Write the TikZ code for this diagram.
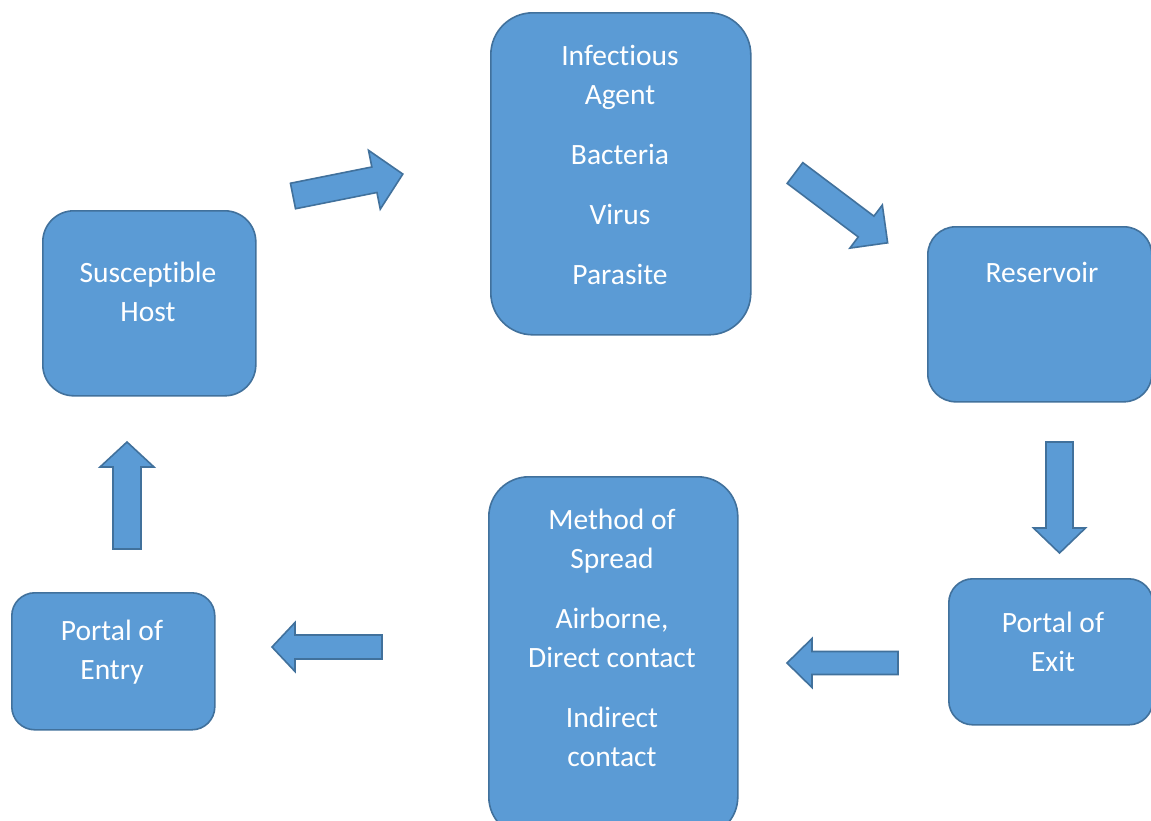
\documentclass[tikz,border=0pt]{standalone}
\usepackage{fontspec}
\setmainfont[Ligatures=NoCommon]{Carlito}
\definecolor{boxfill}{HTML}{5B9BD5}
\definecolor{boxline}{HTML}{41719C}
\begin{document}
\begin{tikzpicture}[x=1pt,y=-1pt,
  box/.style={draw=boxline, fill=boxfill, line width=1.6pt, anchor=north west, inner sep=0pt},
  lbl/.style={text=white, font=\fontsize{29.5}{39}\selectfont, align=center, inner sep=0pt, anchor=north},
  arrowline/.style={draw=boxline, fill=boxfill, line width=1.6pt, line join=miter},
  pics/barrow/.style args={#1/#2/#3/#4}{code={
    \draw[arrowline] (0,-#2/2) -- (#1-#4,-#2/2) -- (#1-#4,-#3/2) -- (#1,0)
      -- (#1-#4,#3/2) -- (#1-#4,#2/2) -- (0,#2/2) -- cycle;}}
]
\fill[white] (0,0) rectangle (1151,820);
\useasboundingbox (0,0) rectangle (1151,820);
\clip (0,0) rectangle (1151,820);

% boxes
\node[box, rounded corners=42pt, minimum width=260pt, minimum height=322pt] (agent) at (490,12) {};
\node[box, rounded corners=31pt, minimum width=213pt, minimum height=185pt] (host) at (42,210) {};
\node[box, rounded corners=28pt, minimum width=224pt, minimum height=175pt] (reservoir) at (927,226) {};
\node[box, rounded corners=24pt, minimum width=204pt, minimum height=146pt] (exit) at (948,578) {};
\node[box, rounded corners=40pt, minimum width=249pt, minimum height=360pt] (spread) at (488,476) {};
\node[box, rounded corners=23pt, minimum width=203pt, minimum height=137pt] (entry) at (11,592) {};

% labels (anchored at top of a strut on the first line)
\node[lbl] (agentt) at (620,38) {\strut Infectious\\Agent\\[21pt]Bacteria\\[21pt]Virus\\[21pt]Parasite};
\node[lbl] (hostt) at (148,255) {\strut Susceptible\\Host};
\node[lbl] (reservoirt) at (1042,255) {\strut Reservoir};
\node[lbl] (exitt) at (1053,605) {\strut Portal of\\Exit};
\node[lbl] (spreadt) at (612,502) {\strut Method of\\Spread\\[21pt]Airborne,\\Direct contact\\[21pt]Indirect\\contact};
\node[lbl] (entryt) at (112,613) {\strut Portal of\\Entry};

% block arrows (tail points)
\coordinate (a1) at (293,196);
\coordinate (a2) at (795,173);
\coordinate (a3) at (1059.5,442);
\coordinate (a4) at (127,549);
\coordinate (a5) at (382,647);
\coordinate (a6) at (898,663);
\pic[rotate=11.3] at (a1) {barrow=112/26/60/29};
\pic[rotate=-37] at (a2) {barrow=116/26/54/27};
\pic[rotate=-90] at (a3) {barrow=111/27/52/25};
\pic[rotate=90] at (a4) {barrow=107/28/54/25};
\pic[rotate=180] at (a5) {barrow=110/24/49/23};
\pic[rotate=180] at (a6) {barrow=111/23/49/25};
\end{tikzpicture}
\end{document}
